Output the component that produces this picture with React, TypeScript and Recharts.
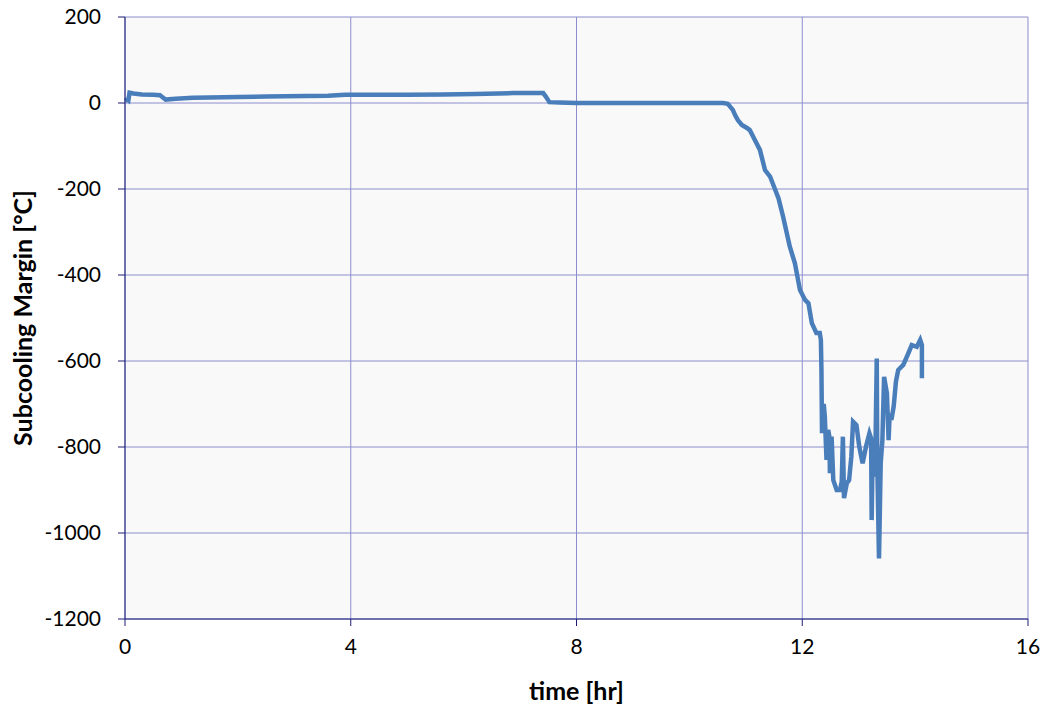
import { LineChart, Line, XAxis, YAxis, CartesianGrid } from "recharts";

// time [hr]
const times = [
  0, 0.04, 0.06, 0.08, 0.15, 0.3, 0.5, 0.62, 0.66, 0.72, 0.9, 1.2, 1.5, 2.0, 2.5, 3.2, 3.6, 3.9, 4.5, 5.0,
  5.64, 6.2, 6.88, 7.41, 7.45, 7.52, 7.7, 8.0, 9.0, 10.0, 10.6, 10.68, 10.77, 10.81, 10.86, 10.93, 11.02,
  11.07, 11.16, 11.25, 11.34, 11.43, 11.58, 11.66, 11.78, 11.87, 11.96, 12.05, 12.11, 12.17, 12.25, 12.31,
  12.33, 12.34, 12.35, 12.38, 12.4, 12.43, 12.46, 12.48, 12.49, 12.52, 12.55, 12.61, 12.67, 12.7, 12.72,
  12.74, 12.79, 12.83, 12.87, 12.9, 12.96, 13.01, 13.07, 13.13, 13.19, 13.22, 13.23, 13.25, 13.29, 13.32,
  13.33, 13.36, 13.39, 13.42, 13.45, 13.5, 13.53, 13.55, 13.58, 13.62, 13.66, 13.7, 13.79, 13.88, 13.94,
  14.03, 14.09, 14.12, 14.12,
];

// subcooling margin [°C]
const margins = [
  5, 8, 6, 24, 22, 20, 19, 18, 14, 8, 10, 12, 13, 14, 15, 16, 17, 19, 19, 19,
  20, 21, 23, 23, 16, 2, 1, 0, 0, 0, 0, -2, -16, -28, -40, -51, -58,
  -63, -86, -109, -156, -171, -222, -264, -334, -373, -435, -458, -466, -512, -535, -535,
  -551, -620, -768, -700, -729, -830, -760, -776, -861, -776, -877, -900, -900, -880, -776,
  -919, -884, -877, -822, -741, -749, -799, -838, -799, -768, -780, -970, -791, -869, -594,
  -846, -1059, -838, -784, -637, -675, -784, -722, -737, -706, -648, -621, -609, -582, -563,
  -567, -551, -563, -640,
];

const xTicks = [0, 4, 8, 12, 16];
const yTicks = [200, 0, -200, -400, -600, -800, -1000, -1200];

const data = times.map((t, i) => ({ t, v: margins[i] }));

const axisColor = "#1c1c78";
const font = "Lato, 'Open Sans', sans-serif";

export default function App() {
  return (
    <div style={{ position: "absolute", left: 0, top: 0, background: "#fff" }}>
      <LineChart
        width={1047}
        height={709}
        data={data}
        margin={{ top: 17, right: 19, bottom: 0, left: 0 }}
      >
        <CartesianGrid
          stroke="#8c8cce"
          strokeWidth={1}
          fill="#f9f9f9"
          fillOpacity={1}
        />
        <XAxis
          dataKey="t"
          type="number"
          domain={[0, 16]}
          ticks={xTicks}
          height={90}
          stroke={axisColor}
          tickSize={7}
          tickMargin={13}
          tick={{ fill: "#000", fontSize: 21, fontFamily: font }}
          label={{
            value: "time [hr]",
            position: "insideBottom",
            offset: 9,
            fill: "#000",
            fontSize: 25,
            fontWeight: "bold",
            fontFamily: font,
          }}
        />
        <YAxis
          type="number"
          domain={[-1200, 200]}
          ticks={yTicks}
          width={125}
          stroke={axisColor}
          tickSize={7}
          tickMargin={17}
          interval={0}
          tick={{ fill: "#000", fontSize: 21, fontFamily: font }}
          label={{
            content: () => (
              <text
                x={22}
                y={318}
                transform="rotate(-90 22 318)"
                textAnchor="middle"
                dominantBaseline="central"
                fill="#000"
                fontSize={25}
                fontWeight="bold"
                fontFamily={font}
              >
                Subcooling Margin [°C]
              </text>
            ),
          }}
        />
        <Line
          type="linear"
          dataKey="v"
          stroke="#4a7ebb"
          strokeWidth={4.5}
          dot={false}
          isAnimationActive={false}
        />
      </LineChart>
    </div>
  );
}
